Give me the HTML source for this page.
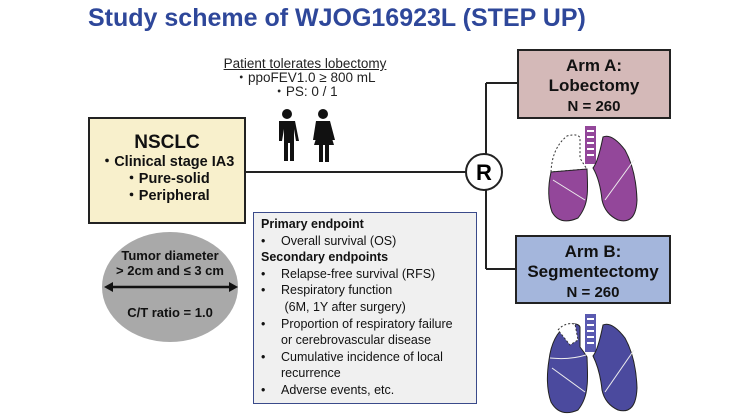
<!DOCTYPE html>
<html><head><meta charset="utf-8"><style>
body{margin:0;width:751px;height:420px;background:#fff;position:relative;overflow:hidden;font-family:"Liberation Sans",Arial,sans-serif;}
.a{position:absolute;}
.box{position:absolute;box-sizing:border-box;border:2px solid #222;text-align:center;font-weight:bold;color:#111;}
</style></head><body>
<div class="a" style="left:88px;top:4px;font-size:25px;font-weight:bold;color:#2e479a;white-space:nowrap">Study scheme of WJOG16923L (STEP UP)</div>
<div class="a" style="left:195px;top:57px;width:220px;text-align:center;font-size:13.5px;line-height:14px;color:#222">
<span style="text-decoration:underline">Patient tolerates lobectomy</span><br>・ppoFEV1.0 ≥ 800 mL<br>・PS: 0 / 1</div>
<svg class="a" style="left:0;top:0" width="751" height="420">
<line x1="246" y1="172" x2="466" y2="172" stroke="#222" stroke-width="2"/>
<line x1="486" y1="83" x2="486" y2="269" stroke="#222" stroke-width="2"/>
<line x1="486" y1="83" x2="517" y2="83" stroke="#222" stroke-width="2"/>
<line x1="486" y1="269" x2="515" y2="269" stroke="#222" stroke-width="2"/>
<circle cx="484" cy="172" r="18" fill="#fff" stroke="#222" stroke-width="2"/>
<text x="484" y="180" text-anchor="middle" font-size="22" font-weight="bold" font-family="Liberation Sans">R</text>
<g fill="#111">
<circle cx="287" cy="114" r="5"/>
<path d="M279 121h16l4 20h-3l-2-12v32h-4v-18h-2v18h-4v-32l-2 12h-3z"/>
<circle cx="323" cy="114" r="5"/>
<path d="M316 121h14l5 19h-3l-3-11 5 16h-5v17h-4v-17h-2v17h-4v-17h-5l5-16-3 11h-3z"/>
</g>
<ellipse cx="170" cy="287" rx="68" ry="55" fill="#a9a9a9"/>
<line x1="108" y1="287" x2="234" y2="287" stroke="#111" stroke-width="2.5"/>
<path d="M104 287l9-5v10z M238 287l-9-5v10z" fill="#111"/>
<g>
<rect x="585" y="126" width="11" height="38" fill="#93479a"/>
<path d="M587 131h7M587 137h7M587 143h7M587 149h7M587 155h7" stroke="#fff" stroke-width="2"/>
<path d="M551 172 Q552 148 567 136 Q578 133 580 138 L580 158 Q584 165 587 169 L551 172z" fill="#fff" stroke="#333" stroke-dasharray="2,2"/>
<path d="M551 172 L587 169 Q588 190 587 196 Q586 208 578 218 Q560 226 552 212 Q546 195 551 172z" fill="#93479a" stroke="#222"/>
<path d="M603 137 Q612 133 625 150 Q636 170 637 200 Q636 225 618 220 Q605 214 602 200 Q600 180 593 168 Q598 162 603 137z" fill="#93479a" stroke="#222"/>
<line x1="553" y1="180" x2="585" y2="200" stroke="#eee" stroke-width="1"/>
<line x1="605" y1="200" x2="634" y2="160" stroke="#eee" stroke-width="1"/>
</g>
<g>
<rect x="585" y="314" width="11" height="38" fill="#5a5ab0"/>
<path d="M587 319h7M587 325h7M587 331h7M587 337h7M587 343h7" stroke="#fff" stroke-width="2"/>
<path d="M549 360 Q552 335 567 325 Q578 322 580 327 L580 347 Q584 352 587 357 Q588 380 587 386 Q586 400 578 410 Q560 418 551 402 Q545 385 549 360z" fill="#4b4a9e" stroke="#222"/>
<path d="M558 330 Q565 322 575 324 L578 340 L570 345z" fill="#fff" stroke="#333" stroke-dasharray="2,2"/>
<path d="M603 325 Q612 321 625 338 Q636 358 637 388 Q636 415 618 410 Q605 404 602 390 Q600 370 593 356 Q598 350 603 325z" fill="#4b4a9e" stroke="#222"/>
<path d="M550 358 Q570 360 586 355" stroke="#eee" fill="none"/>
<line x1="552" y1="368" x2="585" y2="392" stroke="#eee"/>
<line x1="605" y1="392" x2="634" y2="350" stroke="#eee"/>
</g>
</svg>
<div class="box" style="left:88px;top:117px;width:158px;height:107px;background:#f8f0cc;font-size:14.5px;line-height:17px;padding-top:13px">
<div style="font-size:19px;line-height:22px">NSCLC</div>・Clinical stage IA3<br>・Pure-solid<br>・Peripheral</div>
<div class="box" style="left:517px;top:49px;width:154px;height:70px;background:#d4b9b8;font-size:17px;line-height:20px;padding-top:5px">Arm A:<br>Lobectomy<br><span style="font-size:15px">N = 260</span></div>
<div class="box" style="left:515px;top:235px;width:156px;height:69px;background:#a4b6dc;font-size:17px;line-height:20px;padding-top:5px">Arm B:<br>Segmentectomy<br><span style="font-size:15px">N = 260</span></div>
<div class="a" style="left:100px;top:248px;width:140px;text-align:center;font-size:13px;font-weight:bold;line-height:15px;color:#111">Tumor diameter<br>&gt; 2cm and ≤ 3 cm</div>
<div class="a" style="left:100px;top:305px;width:140px;text-align:center;font-size:13px;font-weight:bold;color:#111">C/T ratio = 1.0</div>
<div class="a" style="left:253px;top:212px;width:224px;height:192px;box-sizing:border-box;border:1.5px solid #3a4a8a;background:#f0f0f0;font-size:12.5px;line-height:16.6px;color:#111;padding:3px 0 0 7px">
<b>Primary endpoint</b><br>
<div style="display:flex"><span style="width:20px">•</span><span>Overall survival (OS)</span></div>
<b>Secondary endpoints</b>
<div style="display:flex"><span style="width:20px">•</span><span>Relapse-free survival (RFS)</span></div>
<div style="display:flex"><span style="width:20px">•</span><span>Respiratory function<br>&nbsp;(6M, 1Y after surgery)</span></div>
<div style="display:flex"><span style="width:20px">•</span><span>Proportion of respiratory failure<br>or cerebrovascular disease</span></div>
<div style="display:flex"><span style="width:20px">•</span><span>Cumulative incidence of local<br>recurrence</span></div>
<div style="display:flex"><span style="width:20px">•</span><span>Adverse events, etc.</span></div>
</div>
</body></html>
